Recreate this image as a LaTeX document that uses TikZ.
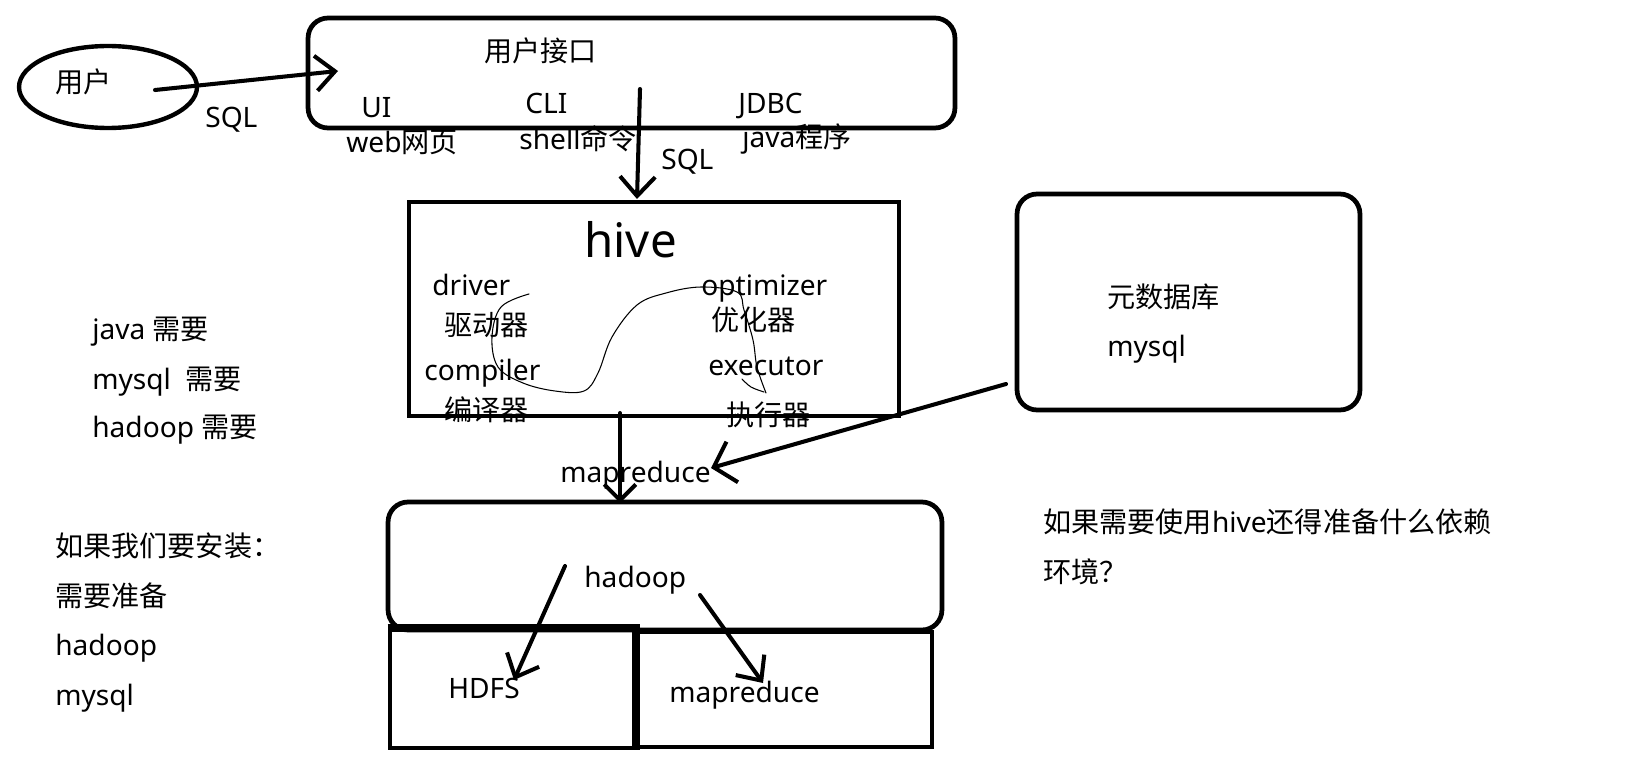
\documentclass[tikz,border=0pt]{standalone}
\usepackage{fontspec}
\setmainfont{Noto Sans}
\newfontfamily\cjk{Noto Sans CJK SC}
\usetikzlibrary{arrows.meta,shapes.geometric}
\begin{document}
\begin{tikzpicture}[x=0.02cm,y=-0.02cm,
  txt/.style={anchor=base west, inner sep=0pt, font=\fontsize{16pt}{18pt}\selectfont},
  big/.style={anchor=base west, inner sep=0pt, font=\fontsize{27pt}{30pt}\selectfont},
  box/.style={draw, line width=2.7pt, inner sep=0pt},
  rbox/.style={box, rounded corners=0.4cm},
  arr/.style={line width=2.3pt, line cap=round, line join=round, -{Straight Barb[length=11pt,width=20pt]}},
  scribble/.style={line width=0.6pt, line cap=round},
]
\useasboundingbox (0,0) rectangle (1646,784);

% shapes
\node[draw, ellipse, line width=2.5pt, minimum width=3.56cm, minimum height=1.64cm, inner sep=0pt] (user) at (108,87) {};
\node[rbox, minimum width=12.94cm, minimum height=2.2cm] (uibox) at (631.5,73) {};
\node[box, minimum width=9.8cm, minimum height=4.28cm] (hive) at (654,309) {};
\node[rbox, minimum width=6.86cm, minimum height=4.32cm] (meta) at (1188.5,302) {};
\node[rbox, minimum width=11.08cm, minimum height=2.56cm] (hadoop) at (665,566) {};
\node[box, minimum width=4.88cm, minimum height=2.36cm] (hdfs) at (512,689) {};
\node[box, minimum width=5.96cm, minimum height=2.3cm] (mr) at (783,689.5) {};
\draw[line width=3.6pt] (hdfs.north west) -- (hdfs.north east) -- (hdfs.south east);

% texts
\node[txt] (tuser) at (55,92) {\cjk 用户};
\node[txt] (sql1) at (205,128) {SQL};
\node[txt] (tui) at (484,62) {\cjk 用户接口};
\node[txt] (ui) at (361,117) {UI};
\node[txt] (cli) at (525,113) {CLI};
\node[txt] (jdbc) at (738,113) {JDBC};
\node[txt] (web) at (346,153) {web{\cjk 网页}};
\node[txt] (shell) at (519,150) {shell{\cjk 命令}};
\node[txt] (javap) at (742,148) {java{\cjk 程序}};
\node[txt] (sql2) at (661,170) {SQL};

\node[big] (thive) at (584,257) {hive};
\node[txt] (driver) at (432,295) {driver};
\node[txt] (qdq) at (444,335) {\cjk 驱动器};
\node[txt] (compiler) at (424,380) {compiler};
\node[txt] (byq) at (444,420) {\cjk 编译器};
\node[txt] (optimizer) at (701,295) {optimizer};
\node[txt] (yhq) at (711,330) {\cjk 优化器};
\node[txt] (executor) at (708,375) {executor};
\node[txt] (zxq) at (726,425) {\cjk 执行器};

\node[txt] (mrlabel) at (560,482) {mapreduce};
\node[txt] (ysjk) at (1107,307) {\cjk 元数据库};
\node[txt] (mysqlm) at (1107,356) {mysql};

\node[txt] (thadoop) at (584,587) {hadoop};
\node[txt] (thdfs) at (448,698) {HDFS};
\node[txt] (tmr) at (669,702) {mapreduce};

\node[txt] (l1) at (92,339) {java {\cjk 需要}};
\node[txt] (l2) at (92,389) {mysql\ \ {\cjk 需要}};
\node[txt] (l3) at (92,437) {hadoop {\cjk 需要}};
\node[txt] (l4) at (55,556) {\cjk 如果我们要安装：};
\node[txt] (l5) at (55,606) {\cjk 需要准备};
\node[txt] (l6) at (55,655) {hadoop};
\node[txt] (l7) at (55,705) {mysql};

\node[txt] (r1) at (1043,532) {{\cjk 如果需要使用}hive{\cjk 还得准备什么依赖}};
\node[txt] (r2) at (1043,582) {\cjk 环境？};

% connector end points
\coordinate (a1s) at (155,90);
\coordinate (a1e) at (338,71);
\coordinate (a2s) at (640,89);
\coordinate (a2e) at (637,199);
\coordinate (a3s) at (620,413);
\coordinate (a3e) at (620,503);
\coordinate (a4s) at (1006,384);
\coordinate (a4e) at (711,468);
\coordinate (a5s) at (565,566);
\coordinate (a5e) at (514,680);
\coordinate (a6s) at (700,595);
\coordinate (a6e) at (763,683);

\draw[arr] (a1s) -- (a1e);
\draw[arr] (a2s) -- (a2e);
\draw[arr, -{Straight Barb[length=9pt,width=18pt]}] (a3s) -- (a3e);
\draw[arr, -{Straight Barb[length=11pt,width=24pt]}] (a4s) -- (a4e);
\draw[arr] (a5s) -- (a5e);
\draw[arr] (a6s) -- (a6e);

% freehand scribble
\draw[scribble] plot[smooth, tension=0.6] coordinates {(529,294) (501,307) (492,337) (498,367) (523,383) (555,391) (584,391) (598,373) (612,337) (637,305) (666,293) (701,287) (737,292) (744,310) (753,340) (757,367) (766,393)};
\draw[scribble] plot[smooth, tension=0.6] coordinates {(742,379) (751,387) (764,392)};
\end{tikzpicture}
\end{document}
